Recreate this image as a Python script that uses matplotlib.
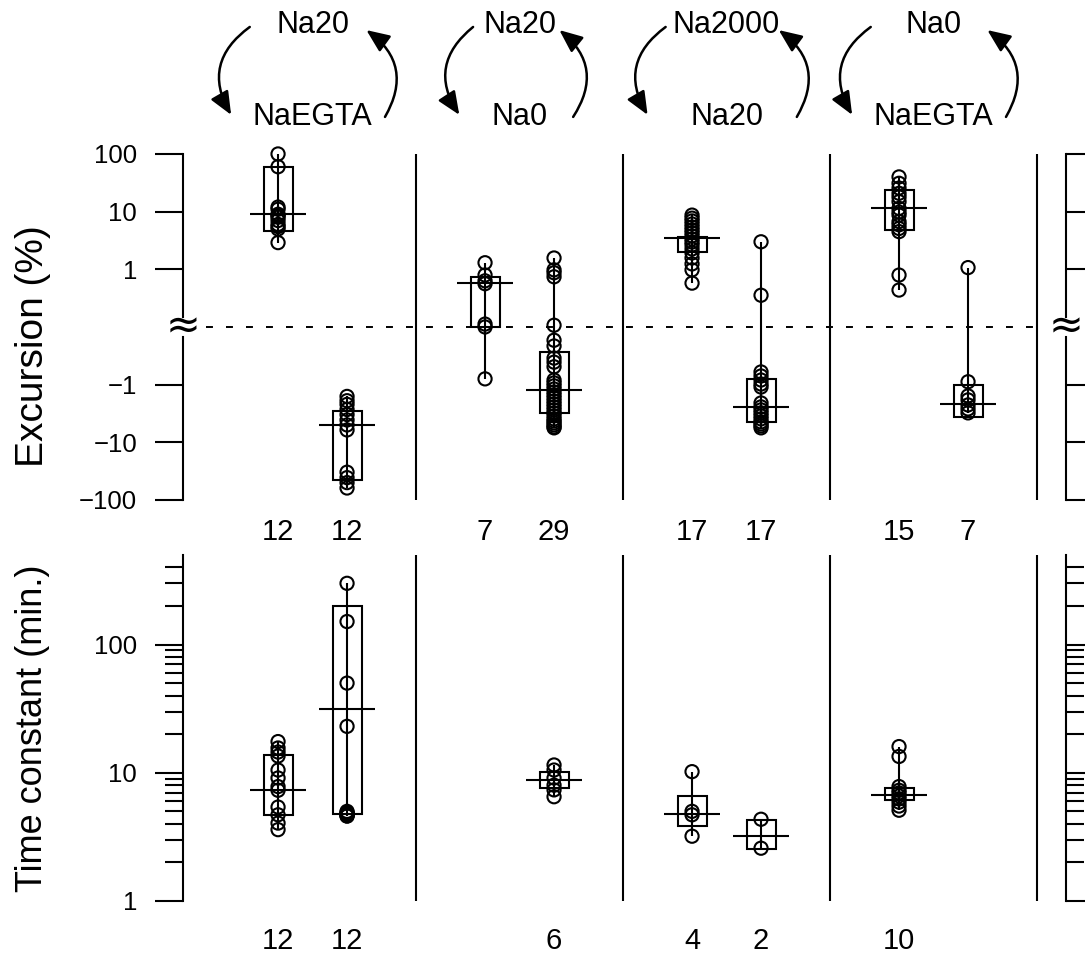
import numpy as np
import matplotlib
matplotlib.use('Agg')
import matplotlib.pyplot as plt
from matplotlib.ticker import FixedLocator, FixedFormatter, NullLocator, LogLocator, NullFormatter

plt.rcParams['font.family'] = ['Liberation Sans', 'DejaVu Sans']
plt.rcParams['lines.scale_dashes'] = False

# solution changes, one per pair of columns
sol_from = ['Na20', 'Na20', 'Na2000', 'Na0']
sol_to = ['NaEGTA', 'Na0', 'Na20', 'NaEGTA']

# excursion (%), one list per column
exc_points = [
    [100, 60, 12, 11, 9, 8.5, 8, 7, 6, 5.5, 5, 2.9],
    [-1.6, -1.9, -2.2, -2.7, -3.3, -4.1, -5.0, -6.1, -33, -41, -50, -62],
    [1.3, 0.9, 0.8, 0.75, 0.05, 0.0, -0.9],
    [1.57, 0.99, 0.94, 0.87, 0.03, -0.23, -0.33, -0.54, -0.61, -0.69, -0.92, -0.97,
     -1.05, -1.19, -1.34, -1.51, -1.7, -1.92, -2.16, -2.43, -2.74, -3.09, -3.48,
     -3.93, -4.26, -4.61, -4.99, -5.41, -5.62],
    [8.7, 7.7, 6.9, 6.1, 5.4, 4.8, 4.3, 3.8, 3.35, 2.97, 2.64, 2.25, 1.92, 1.57,
     1.24, 0.99, 0.76],
    [3.0, 0.55, -0.78, -0.85, -0.92, -0.99, -1.1, -2.08, -2.43, -2.74, -3.09,
     -3.48, -3.93, -4.43, -4.8, -5.2, -5.62],
    [40, 31, 25.6, 20.8, 17.9, 14.9, 11.4, 9.8, 8.7, 6.7, 5.9, 5.1, 4.5, 0.9, 0.64],
    [1.07, -0.95, -1.57, -1.84, -2.25, -2.64, -3.09],
]
exc_lo = [4.7, -45, 0.0, -3.1, 2.02, -4.5, 4.8, -3.6]
exc_med = [9.1, -5.0, 0.77, -1.26, 3.45, -2.4, 11.4, -2.15]
exc_hi = [59, -2.9, 0.87, -0.43, 3.67, -0.91, 23.6, -1.0]
exc_n = [12, 12, 7, 29, 17, 17, 15, 7]

# time constant (min.), one list per column (None = not measured)
tau_points = [
    [17.5, 15.6, 14.5, 13.5, 10.5, 9.1, 7.8, 7.3, 5.4, 4.7, 4.05, 3.6],
    [300, 151, 50, 23, 5.0, 4.9, 4.8, 4.8, 4.7, 4.7, 4.6, 4.6],
    None,
    [11.5, 10.5, 9.1, 8.0, 7.35, 6.5],
    [10.2, 5.0, 4.7, 3.2],
    [4.34, 2.58],
    [16, 13.4, 7.8, 7.3, 6.96, 6.6, 6.25, 5.9, 5.5, 5.1],
    None,
]
tau_lo = [4.7, 4.77, None, 7.6, 3.85, 2.53, 6.1, None]
tau_med = [7.3, 31.3, None, 8.8, 4.77, 3.21, 6.7, None]
tau_hi = [13.8, 198, None, 10.1, 6.6, 4.28, 7.55, None]
tau_n = [12, 12, None, 6, 4, 2, 10, None]

positions = [3 * (i // 2) + 1 + i % 2 for i in range(8)]
LW = 1.5


def draw_column(ax, x, pts, lo, med, hi):
    if pts is None:
        return
    ax.vlines(x, min(pts), max(pts), color='black', lw=LW, zorder=2)
    ax.bar(x, hi - lo, bottom=lo, width=0.42, fill=False, edgecolor='black',
           lw=LW, zorder=2)
    ax.hlines(med, x - 0.4, x + 0.4, color='black', lw=LW, zorder=3)
    ax.scatter([x] * len(pts), pts, s=90, facecolors='none', edgecolors='black',
               linewidths=1.5, zorder=4, clip_on=False)


def style_axis(ax):
    ax.set_xlim(-0.377, 12.42)
    ax.set_xticks([])
    for s in ['top', 'bottom']:
        ax.spines[s].set_visible(False)
    for s in ['left', 'right']:
        ax.spines[s].set_linewidth(LW)
    ax.tick_params(axis='y', which='major', direction='out', length=20, width=LW,
                   pad=13, labelsize=18.5, left=True, right=True, labelright=False)
    ax.tick_params(axis='y', which='minor', direction='out', length=13, width=LW,
                   left=True, right=True)
    for sep in [3, 6, 9, 12]:
        ax.axvline(sep, color='black', lw=LW, zorder=1)


fig = plt.figure(figsize=(10.85, 9.58), dpi=100)
ax1 = fig.add_axes([0.1687, 0.4781, 0.8138, 0.3612])
ax2 = fig.add_axes([0.1687, 0.0595, 0.8138, 0.3612])

# top panel: excursion
ax1.set_yscale('symlog', linthresh=1, linscale=0.9, base=10)
ax1.set_ylim(-100, 100)
style_axis(ax1)
ax1.yaxis.set_major_locator(FixedLocator([-100, -10, -1, 1, 10, 100]))
ax1.yaxis.set_major_formatter(FixedFormatter(['\u2212100', '\u221210', '\u22121', '1', '10', '100']))
ax1.yaxis.set_minor_locator(NullLocator())
# broken axis lines
ax1.spines['left'].set_visible(False)
ax1.spines['right'].set_visible(False)
yt = ax1.get_yaxis_transform()
for xa in [0, 1]:
    ax1.plot([xa, xa], [0.18, 100], color='black', lw=LW, transform=yt, clip_on=False)
    ax1.plot([xa, xa], [-100, -0.18], color='black', lw=LW, transform=yt, clip_on=False)
    ax1.text(xa, 0, '\u2248', transform=yt, ha='center', va='center', fontsize=30,
             family='DejaVu Sans', clip_on=False)
ax1.plot([-0.05, 12], [0, 0], color='black', lw=1.4, dashes=(5, 9.4), zorder=1)

for i, x in enumerate(positions):
    draw_column(ax1, x, exc_points[i], exc_lo[i], exc_med[i], exc_hi[i])
    ax1.text(x, -0.0925, str(exc_n[i]), transform=ax1.get_xaxis_transform(),
             ha='center', va='center', fontsize=21)

# solution-change cycles above the top panel
bt = ax1.get_xaxis_transform()
arrow_spread = [1.0, 0.74, 0.97, 1.0]
for g in range(4):
    c = 3 * g + 1.5
    k = arrow_spread[g]
    ax1.text(c, 1.373, sol_from[g], transform=bt, ha='center', va='center', fontsize=22)
    ax1.text(c, 1.107, sol_to[g], transform=bt, ha='center', va='center', fontsize=22)
    aprops = dict(arrowstyle='-|>,head_length=0.7,head_width=0.3',
                  connectionstyle='arc3,rad=0.45', lw=1.8, color='black',
                  mutation_scale=20, shrinkA=0, shrinkB=0)
    ax1.annotate('', xy=(c - 1.18 * k, 1.113), xytext=(c - 0.91 * k, 1.367),
                 xycoords=bt, textcoords=bt, arrowprops=aprops, annotation_clip=False)
    ax1.annotate('', xy=(c + 0.78 * k, 1.358), xytext=(c + 1.05 * k, 1.107),
                 xycoords=bt, textcoords=bt, arrowprops=aprops, annotation_clip=False)

# bottom panel: time constant
ax2.set_yscale('log')
ax2.set_ylim(1, 499)
style_axis(ax2)
ax2.yaxis.set_major_locator(FixedLocator([1, 10, 100]))
ax2.yaxis.set_major_formatter(FixedFormatter(['1', '10', '100']))
ax2.yaxis.set_minor_locator(LogLocator(base=10, subs=range(2, 10)))
ax2.yaxis.set_minor_formatter(NullFormatter())

for i, x in enumerate(positions):
    draw_column(ax2, x, tau_points[i], tau_lo[i], tau_med[i], tau_hi[i])
    if tau_n[i] is not None:
        ax2.text(x, -0.1156, str(tau_n[i]), transform=ax2.get_xaxis_transform(),
                 ha='center', va='center', fontsize=21)

fig.text(0.030, 0.639, 'Excursion (%)', rotation=90, ha='center', va='center', fontsize=28)
fig.text(0.030, 0.240, 'Time constant (min.)', rotation=90, ha='center', va='center', fontsize=26)

fig.savefig('out.png', dpi=100)
